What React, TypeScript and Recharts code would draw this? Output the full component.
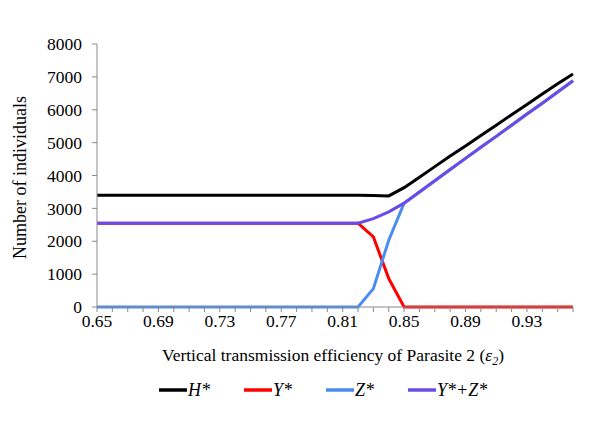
import { LineChart, Line, XAxis, YAxis, Legend, Label } from "recharts";

// vertical transmission efficiency of parasite 2
const categories = [
  "0.65", "0.66", "0.67", "0.68", "0.69", "0.70", "0.71", "0.72",
  "0.73", "0.74", "0.75", "0.76", "0.77", "0.78", "0.79", "0.80",
  "0.81", "0.82", "0.83", "0.84", "0.85", "0.86", "0.87", "0.88",
  "0.89", "0.90", "0.91", "0.92", "0.93", "0.94", "0.95", "0.96",
];

const hStar = [
  3400, 3400, 3400, 3400, 3400, 3400, 3400, 3400,
  3400, 3400, 3400, 3400, 3400, 3400, 3400, 3400,
  3400, 3400, 3390, 3380, 3630, 3950, 4270, 4590,
  4900, 5220, 5530, 5850, 6160, 6480, 6790, 7090,
];

const yStar = [
  2550, 2550, 2550, 2550, 2550, 2550, 2550, 2550,
  2550, 2550, 2550, 2550, 2550, 2550, 2550, 2550,
  2550, 2550, 2130, 865, 0, 0, 0, 0,
  0, 0, 0, 0, 0, 0, 0, 0,
];

const zStar = [
  0, 0, 0, 0, 0, 0, 0, 0,
  0, 0, 0, 0, 0, 0, 0, 0,
  0, 0, 560, 2030, 3160, 3500, 3840, 4180,
  4520, 4860, 5190, 5530, 5870, 6200, 6540, 6880,
];

const yzStar = [
  2550, 2550, 2550, 2550, 2550, 2550, 2550, 2550,
  2550, 2550, 2550, 2550, 2550, 2550, 2550, 2550,
  2550, 2550, 2690, 2895, 3160, 3500, 3840, 4180,
  4520, 4860, 5190, 5530, 5870, 6200, 6540, 6880,
];

const yTicks = [0, 1000, 2000, 3000, 4000, 5000, 6000, 7000, 8000];

const data = categories.map((eps, i) => ({
  eps,
  h: hStar[i],
  y: yStar[i],
  z: zStar[i],
  yz: yzStar[i],
}));

const FONT = "'Liberation Serif', 'Times New Roman', serif";
const AXIS = "#898989";

const series = [
  { key: "h", name: "H*", color: "#000000" },
  { key: "y", name: "Y*", color: "#FF0000" },
  { key: "z", name: "Z*", color: "#4A8CF2" },
  { key: "yz", name: "Y*+Z*", color: "#6A4CE6" },
];

const XTick = (props: any) => {
  const { x, y, payload, index } = props;
  if (index % 4 !== 0) return null;
  return (
    <text x={x} y={y} dy="0.71em" textAnchor="middle" fill="#000" fontSize={17.5} fontFamily={FONT}>
      {payload.value}
    </text>
  );
};

const XTitle = (props: any) => {
  const { x, y, width } = props.viewBox;
  return (
    <text x={x + width / 2 - 2} y={y + 54} textAnchor="middle" fill="#000" fontSize={17.5} fontFamily={FONT}>
      Vertical transmission efficiency of Parasite 2 (
      <tspan fontStyle="italic">ε</tspan>
      <tspan fontStyle="italic" fontSize={12} dy={4}>2</tspan>
      <tspan dy={-4}>)</tspan>
    </text>
  );
};

const YTitle = (props: any) => {
  const { x, y, height } = props.viewBox;
  const cx = x + 20;
  const cy = y + height / 2 + 2;
  return (
    <text
      x={cx}
      y={cy}
      transform={`rotate(-90, ${cx}, ${cy})`}
      textAnchor="middle"
      dominantBaseline="central"
      fill="#000"
      fontSize={18}
      fontFamily={FONT}
    >
      Number of individuals
    </text>
  );
};

const LegendContent = () => (
  <div style={{ display: "flex", height: 22, alignItems: "center", fontFamily: FONT, fontSize: 18, paddingLeft: 159 }}>
    {series.map((s) => (
      <div key={s.key} style={{ display: "flex", alignItems: "center", marginRight: 34 }}>
        <svg width={28} height={6} style={{ marginRight: 1 }}>
          <line x1={0} y1={3} x2={28} y2={3} stroke={s.color} strokeWidth={3.5} />
        </svg>
        <span style={{ fontStyle: "italic" }}>{s.name}</span>
      </div>
    ))}
  </div>
);

export default function App() {
  return (
    <div style={{ position: "absolute", left: 0, top: 0, background: "#fff" }}>
      <LineChart width={600} height={424} data={data} margin={{ top: 44, right: 27, left: 0, bottom: 23 }}>
        <XAxis
          dataKey="eps"
          interval={0}
          height={72}
          tick={<XTick />}
          tickSize={5}
          tickMargin={3}
          stroke={AXIS}
          axisLine={{ stroke: AXIS }}
          tickLine={{ stroke: AXIS }}
        >
          <Label content={<XTitle />} />
        </XAxis>
        <YAxis
          width={97}
          domain={[0, 8000]}
          ticks={yTicks}
          interval={0}
          tickSize={5}
          tickMargin={10}
          axisLine={{ stroke: AXIS }}
          tickLine={{ stroke: AXIS }}
          tick={{ fill: "#000", fontSize: 17.5, fontFamily: FONT }}
        >
          <Label content={<YTitle />} />
        </YAxis>
        <Legend verticalAlign="bottom" wrapperStyle={{ left: 0, width: 600 }} content={<LegendContent />} />
        {series.map((s) => (
          <Line
            key={s.key}
            type="linear"
            dataKey={s.key}
            name={s.name}
            stroke={s.color}
            strokeWidth={3}
            dot={false}
            isAnimationActive={false}
          />
        ))}
      </LineChart>
    </div>
  );
}
